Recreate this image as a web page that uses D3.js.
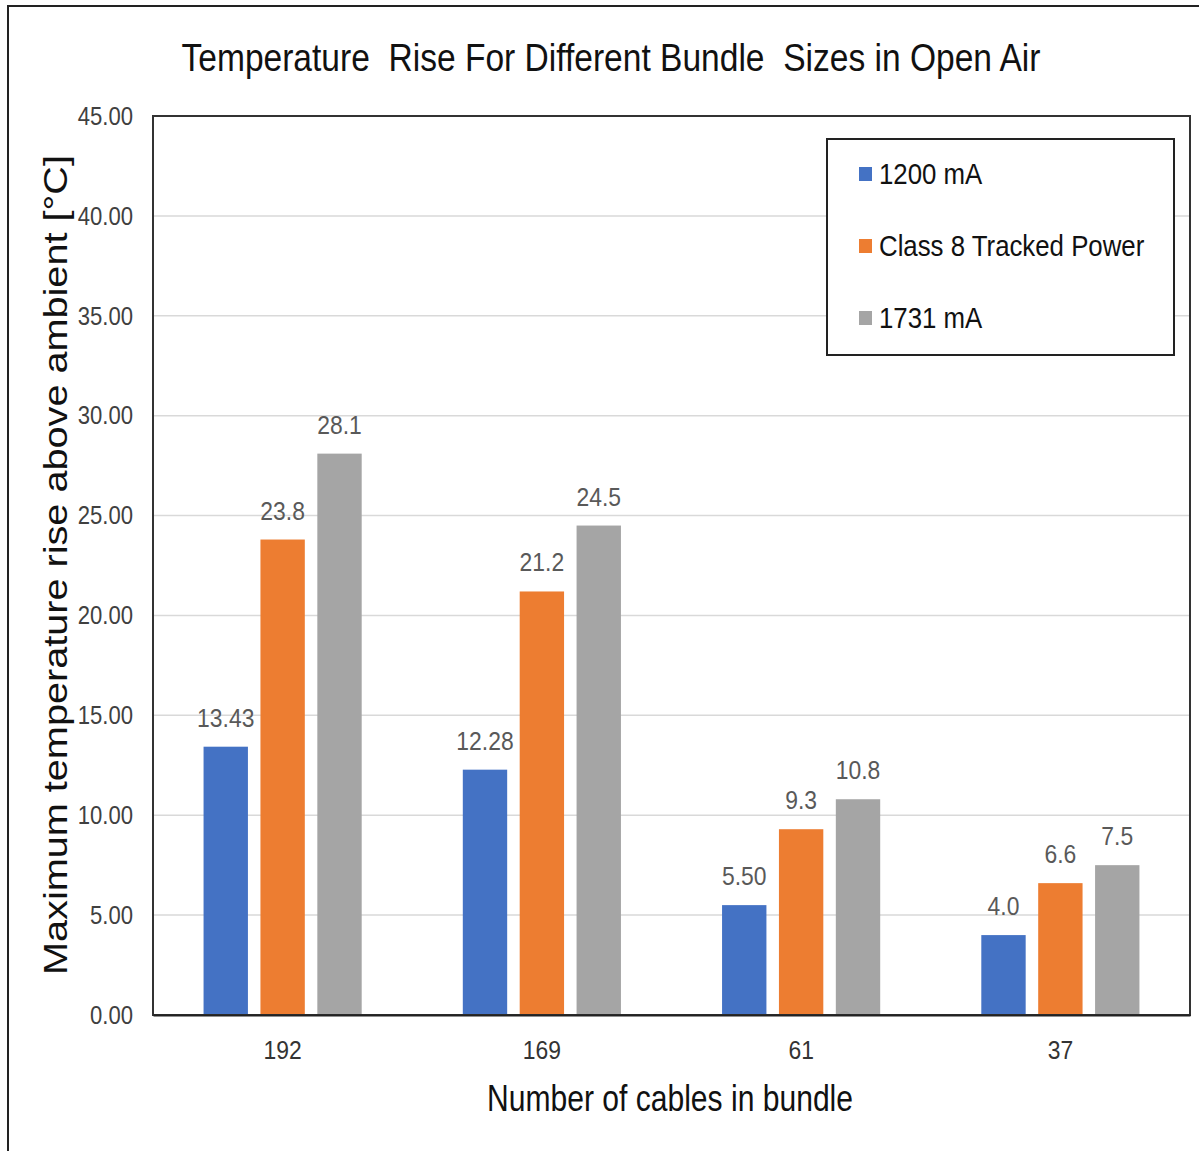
<!DOCTYPE html>
<html>
<head>
<meta charset="utf-8">
<script src="https://cdn.jsdelivr.net/npm/d3@7"></script>
<style>
  body { margin: 0; background: #fff; }
  svg { display: block; }
  text { font-family: "Liberation Sans", Arial, sans-serif; }
</style>
</head>
<body>
<div id="chart"></div>
<script>
// data
var categories = ["192", "169", "61", "37"];
var seriesNames = ["1200 mA", "Class 8 Tracked Power", "1731 mA"];
var colors = ["#4472c4", "#ed7d31", "#a5a5a5"];
var values1200 = [13.43, 12.28, 5.50, 4.0];
var valuesClass8 = [23.8, 21.2, 9.3, 6.6];
var values1731 = [28.1, 24.5, 10.8, 7.5];
var labels1200 = ["13.43", "12.28", "5.50", "4.0"];
var labelsClass8 = ["23.8", "21.2", "9.3", "6.6"];
var labels1731 = ["28.1", "24.5", "10.8", "7.5"];
var yTicks = [0, 5, 10, 15, 20, 25, 30, 35, 40, 45];

var W = 1199, H = 1151;
var margin = { top: 116, right: 9, bottom: 136, left: 153 };
var width = W - margin.left - margin.right;
var height = H - margin.top - margin.bottom;

// the original uses a condensed face; squeeze text horizontally
function squeeze(sel, k) {
    sel.each(function() {
        var len = this.getComputedTextLength();
        d3.select(this)
            .attr("textLength", len * k)
            .attr("lengthAdjust", "spacingAndGlyphs");
    });
}

var svg = d3.select("#chart").append("svg")
    .attr("width", W)
    .attr("height", H);

// outer chart frame (cropped at right/bottom)
svg.append("rect")
    .attr("x", 8).attr("y", 6)
    .attr("width", 1300).attr("height", 1300)
    .attr("fill", "none")
    .attr("stroke", "#222")
    .attr("stroke-width", 2);

var g = svg.append("g")
    .attr("transform", "translate(" + margin.left + "," + margin.top + ")");

var x0 = d3.scaleBand().domain(categories).range([0, width]).paddingInner(0.39).paddingOuter(0.195);
var x1 = d3.scaleBand().domain(seriesNames).range([0, x0.bandwidth()]).paddingInner(0.22);
var y = d3.scaleLinear().domain([0, 45]).range([height, 0]);

var series = [
    { name: seriesNames[0], values: values1200, labels: labels1200, color: colors[0] },
    { name: seriesNames[1], values: valuesClass8, labels: labelsClass8, color: colors[1] },
    { name: seriesNames[2], values: values1731, labels: labels1731, color: colors[2] }
];

// gridlines
g.append("g")
    .selectAll("line")
    .data(yTicks.slice(1))
    .enter().append("line")
    .attr("x1", 0).attr("x2", width)
    .attr("y1", d => y(d)).attr("y2", d => y(d))
    .attr("stroke", "#d9d9d9")
    .attr("stroke-width", 1.5);

// y axis labels
var yAxis = d3.axisLeft(y).tickValues(yTicks).tickSize(0).tickPadding(20).tickFormat(d3.format(".2f"));
var yg = g.append("g").call(yAxis);
yg.select(".domain").remove();
yg.selectAll("text")
    .attr("font-size", 26)
    .attr("fill", "#404040")
    .attr("font-family", null)
    .call(squeeze, 0.85);

// bars
series.forEach(function(s) {
    var sg = g.append("g");
    sg.selectAll("rect")
        .data(categories)
        .enter().append("rect")
        .attr("x", (c) => x0(c) + x1(s.name))
        .attr("y", (c, i) => y(s.values[i]))
        .attr("width", x1.bandwidth())
        .attr("height", (c, i) => height - y(s.values[i]))
        .attr("fill", s.color);

    sg.selectAll("text")
        .data(categories)
        .enter().append("text")
        .attr("x", (c) => x0(c) + x1(s.name) + x1.bandwidth() / 2)
        .attr("y", (c, i) => y(s.values[i]) - 20)
        .attr("text-anchor", "middle")
        .attr("font-size", 26)
        .attr("fill", "#595959")
        .text((c, i) => s.labels[i])
        .call(squeeze, 0.88);
});

// plot frame
g.append("rect")
    .attr("x", 0).attr("y", 0)
    .attr("width", width).attr("height", height)
    .attr("fill", "none")
    .attr("stroke", "#333")
    .attr("stroke-width", 2);

// x axis
var xAxis = d3.axisBottom(x0).tickSize(0).tickPadding(26);
var xg = g.append("g")
    .attr("transform", "translate(0," + height + ")")
    .call(xAxis);
xg.select(".domain").attr("stroke", "#222").attr("stroke-width", 2);
xg.selectAll("text")
    .attr("font-size", 26)
    .attr("fill", "#333")
    .attr("font-family", null)
    .call(squeeze, 0.88);

// title
svg.append("text")
    .attr("x", 611).attr("y", 71)
    .attr("text-anchor", "middle")
    .attr("font-size", 39)
    .attr("fill", "#111")
    .style("white-space", "pre")
    .attr("textLength", 859)
    .attr("lengthAdjust", "spacingAndGlyphs")
    .text("Temperature  Rise For Different Bundle  Sizes in Open Air");

// x axis title
svg.append("text")
    .attr("x", 670).attr("y", 1111)
    .attr("text-anchor", "middle")
    .attr("font-size", 37)
    .attr("fill", "#111")
    .attr("textLength", 366)
    .attr("lengthAdjust", "spacingAndGlyphs")
    .text("Number of cables in bundle");

// y axis title
svg.append("text")
    .attr("transform", "translate(67,565) rotate(-90)")
    .attr("text-anchor", "middle")
    .attr("font-size", 33)
    .attr("fill", "#111")
    .attr("textLength", 820)
    .attr("lengthAdjust", "spacingAndGlyphs")
    .text("Maximum temperature rise above ambient [°C]");

// legend
var legend = svg.append("g").attr("transform", "translate(827,139)");
legend.append("rect")
    .attr("width", 347).attr("height", 216)
    .attr("fill", "#fff")
    .attr("stroke", "#222")
    .attr("stroke-width", 2);
var li = legend.selectAll("g.item")
    .data(series)
    .enter().append("g")
    .attr("class", "item")
    .attr("transform", (d, i) => "translate(32," + (28 + i * 72) + ")");
li.append("rect")
    .attr("width", 13).attr("height", 14)
    .attr("fill", d => d.color);
li.append("text")
    .attr("x", 20).attr("y", 17)
    .attr("font-size", 30)
    .attr("fill", "#111")
    .text(d => d.name)
    .call(squeeze, 0.86);
</script>
</body>
</html>
